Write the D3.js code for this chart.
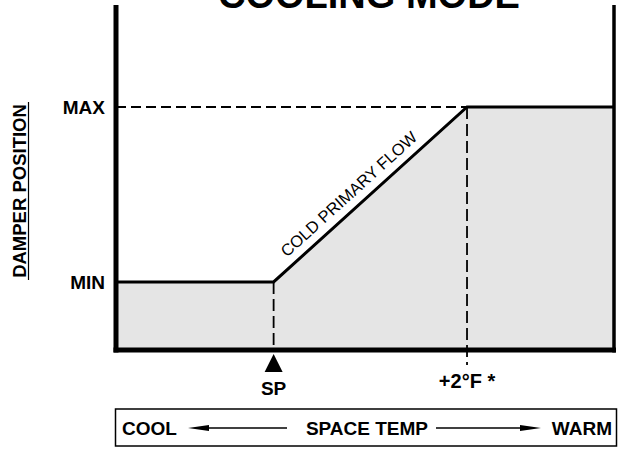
<!DOCTYPE html>
<html>
<head>
<meta charset="utf-8">
<script src="https://cdn.jsdelivr.net/npm/d3@7"></script>
<style>
  html, body { margin: 0; padding: 0; background: #fff; }
  svg { display: block; font-family: "Liberation Sans", Arial, sans-serif; }
</style>
</head>
<body>
<svg id="chart" width="618" height="449"></svg>
<script>
// chart data
const flowTemp = [-1.63, 0, 2, 3.52];   // space temp, °F above set point
const flowPos = [28, 28, 100, 100];     // damper position, % of max
const levelNames = ["MIN", "MAX"];
const levelValues = [28, 100];
const markTemps = [0, 2];
const markLabels = ["SP", "+2°F *"];

const svg = d3.select("#chart");

// scales
const x = d3.scaleLinear().domain([-1.63, 3.52]).range([116, 614]);
const y = d3.scaleLinear().domain([0, 100]).range([350, 107]);
const yTop = 5;

const pts = flowTemp.map((t, i) => [t, flowPos[i]]);

// shaded area under the flow curve
svg.append("path")
    .datum(pts)
    .attr("fill", "#e5e5e5")
    .attr("d", d3.area().x(d => x(d[0])).y0(y(0)).y1(d => y(d[1])));

// dashed guides
svg.append("line")
    .attr("x1", x(flowTemp[0])).attr("x2", x(markTemps[1]))
    .attr("y1", y(levelValues[1])).attr("y2", y(levelValues[1]))
    .attr("stroke", "#000").attr("stroke-width", 1.8)
    .attr("stroke-dasharray", "10,5");

svg.append("line")
    .attr("x1", x(markTemps[0])).attr("x2", x(markTemps[0]))
    .attr("y1", y(levelValues[0])).attr("y2", y(0))
    .attr("stroke", "#000").attr("stroke-width", 1.8)
    .attr("stroke-dasharray", "12,5");

svg.append("line")
    .attr("x1", x(markTemps[1])).attr("x2", x(markTemps[1]))
    .attr("y1", y(levelValues[1])).attr("y2", y(0) + 15)
    .attr("stroke", "#000").attr("stroke-width", 1.8)
    .attr("stroke-dasharray", "12,5");

// flow line
svg.append("path")
    .datum(pts)
    .attr("fill", "none")
    .attr("stroke", "#000")
    .attr("stroke-width", 3)
    .attr("d", d3.line().x(d => x(d[0])).y(d => y(d[1])));

// frame
svg.append("line")
    .attr("x1", 116).attr("x2", 116).attr("y1", yTop).attr("y2", y(0) + 2.5)
    .attr("stroke", "#000").attr("stroke-width", 5);
svg.append("line")
    .attr("x1", 614).attr("x2", 614).attr("y1", yTop).attr("y2", y(0) + 2.5)
    .attr("stroke", "#000").attr("stroke-width", 3.5);
svg.append("line")
    .attr("x1", 113.5).attr("x2", 616).attr("y1", y(0)).attr("y2", y(0))
    .attr("stroke", "#000").attr("stroke-width", 5);

// title (runs off the top edge, as in the original)
svg.append("text")
    .attr("x", 369).attr("y", 7.5)
    .attr("text-anchor", "middle")
    .style("font-size", "38px").style("font-weight", "bold")
    .text("COOLING MODE");

// y level labels
svg.selectAll(".lvl")
    .data(levelNames).enter()
    .append("text")
    .attr("class", "lvl")
    .attr("x", 105)
    .attr("y", (d, i) => y(levelValues[i]))
    .attr("dy", "0.35em")
    .attr("text-anchor", "end")
    .style("font-size", "19px").style("font-weight", "bold")
    .text(d => d);

// y axis title
const yt = svg.append("g").attr("transform", "translate(26," + 191 + ") rotate(-90)");
yt.append("text")
    .attr("text-anchor", "middle")
    .style("font-size", "18.5px").style("font-weight", "bold")
    .text("DAMPER POSITION");
yt.append("line")
    .attr("x1", -89).attr("x2", 89).attr("y1", 2.5).attr("y2", 2.5)
    .attr("stroke", "#000").attr("stroke-width", 1.2);

// SP marker triangle
const spx = x(markTemps[0]);
svg.append("path")
    .attr("d", "M" + spx + "," + (y(0) + 4) + "L" + (spx + 9) + "," + (y(0) + 22) + "L" + (spx - 9) + "," + (y(0) + 22) + "Z")
    .attr("fill", "#000");

// x mark labels
svg.selectAll(".mark")
    .data(markLabels).enter()
    .append("text")
    .attr("class", "mark")
    .attr("x", (d, i) => x(markTemps[i]))
    .attr("y", (d, i) => i === 0 ? 395 : 388)
    .attr("text-anchor", "middle")
    .style("font-size", (d, i) => i === 0 ? "19px" : "20px").style("font-weight", "bold")
    .text(d => d);

// label along the slope
const p0 = [x(flowTemp[1]), y(flowPos[1])];
const p1 = [x(flowTemp[2]), y(flowPos[2])];
const ang = Math.atan2(p1[1] - p0[1], p1[0] - p0[0]) * 180 / Math.PI;
const tpos = 0.44;
svg.append("text")
    .attr("transform", "translate(" + (p0[0] + (p1[0] - p0[0]) * tpos) + "," + (p0[1] + (p1[1] - p0[1]) * tpos) + ") rotate(" + ang + ")")
    .attr("y", -9)
    .attr("text-anchor", "middle")
    .style("font-size", "16.5px")
    .text("COLD PRIMARY FLOW");

// bottom legend box
svg.append("rect")
    .attr("x", 115.5).attr("y", 409).attr("width", 501).attr("height", 37)
    .attr("fill", "none").attr("stroke", "#000").attr("stroke-width", 1.5);

const ly = 428;
svg.append("text").attr("x", 122).attr("y", ly).attr("dy", "0.35em")
    .style("font-size", "19px").style("font-weight", "bold").text("COOL");
svg.append("text").attr("x", 367).attr("y", ly).attr("dy", "0.35em")
    .attr("text-anchor", "middle")
    .style("font-size", "19px").style("font-weight", "bold").text("SPACE TEMP");
svg.append("text").attr("x", 612).attr("y", ly).attr("dy", "0.35em")
    .attr("text-anchor", "end")
    .style("font-size", "19px").style("font-weight", "bold").text("WARM");

function arrow(xFrom, xTo) {
    const dir = Math.sign(xTo - xFrom);
    svg.append("line")
        .attr("x1", xFrom).attr("x2", xTo - dir * 15).attr("y1", ly).attr("y2", ly)
        .attr("stroke", "#000").attr("stroke-width", 1.3);
    svg.append("path")
        .attr("d", "M" + xTo + "," + ly + "L" + (xTo - dir * 21) + "," + (ly - 3) + "L" + (xTo - dir * 21) + "," + (ly + 3) + "Z")
        .attr("fill", "#000");
}
arrow(287, 188);
arrow(436, 541);
</script>
</body>
</html>
